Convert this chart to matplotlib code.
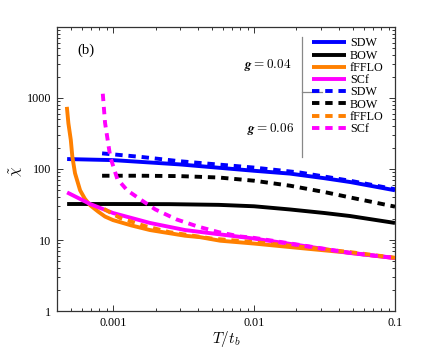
import numpy as np
import matplotlib
matplotlib.use("Agg")
import matplotlib.pyplot as plt
from matplotlib.ticker import LogLocator, FixedLocator, FixedFormatter, NullFormatter

plt.rcParams['font.family'] = ['Liberation Serif', 'DejaVu Serif']
plt.rcParams['mathtext.fontset'] = 'cm'

# ---- data (log10 T, log10 chi) ----
sdw04_lx = [-3.326, -3.0, -2.53, -2.0, -1.745, -1.5, -1.32, -1.0]
sdw04_ly = [2.14, 2.125, 2.065, 1.975, 1.935, 1.87, 1.817, 1.70]

sdw06_lx = [-3.078, -2.8, -2.53, -2.0, -1.674, -1.32, -1.0]
sdw06_ly = [2.22, 2.17, 2.11, 2.02, 1.95, 1.835, 1.715]

bow04_lx = [-3.326, -3.0, -2.6, -2.25, -2.0, -1.745, -1.5, -1.32, -1.0]
bow04_ly = [1.507, 1.507, 1.505, 1.495, 1.475, 1.43, 1.38, 1.338, 1.24]

bow06_lx = [-3.078, -2.8, -2.53, -2.25, -2.0, -1.745, -1.5, -1.32, -1.0]
bow06_ly = [1.905, 1.905, 1.90, 1.88, 1.835, 1.765, 1.675, 1.60, 1.47]

ffflo04_lx = [-3.328, -3.317, -3.300, -3.289, -3.270, -3.234, -3.200, -3.163, -3.106, -3.057, -3.0,
              -2.87, -2.738, -2.489, -2.383, -2.24, -2.0, -1.674, -1.32, -1.0]
ffflo04_ly = [2.875, 2.643, 2.41, 2.173, 1.94, 1.70, 1.58, 1.49, 1.40, 1.33, 1.28,
              1.205, 1.14, 1.06, 1.04, 0.99, 0.95, 0.887, 0.82, 0.745]

ffflo06_lx = [-3.064, -2.95, -2.78, -2.60, -2.3, -2.0, -1.674, -1.32, -1.0]
ffflo06_ly = [1.437, 1.31, 1.20, 1.11, 1.02, 0.97, 0.905, 0.83, 0.75]

scf04_lx = [-3.326, -3.163, -3.0, -2.738, -2.489, -2.0, -1.674, -1.32, -1.0]
scf04_ly = [1.67, 1.507, 1.38, 1.24, 1.14, 1.02, 0.925, 0.817, 0.746]

scf06_lx = [-3.073, -3.057, -3.02, -2.97, -2.90, -2.80, -2.70, -2.55, -2.40,
            -2.25, -2.10, -2.0, -1.674, -1.32, -1.0]
scf06_ly = [3.06, 2.65, 2.17, 1.86, 1.70, 1.563, 1.43, 1.29, 1.19,
            1.11, 1.05, 1.03, 0.93, 0.82, 0.748]

labels = ['SDW', 'BOW', 'fFFLO', 'SCf']
colors = ['#0000FF', '#000000', '#FF8000', '#FF00FF']

x_ticks = [0.001, 0.01, 0.1]
x_ticklabels = ['0.001', '0.01', '0.1']
y_ticks = [1, 10, 100, 1000]
y_ticklabels = ['1', '10', '100', '1000']

fig = plt.figure(figsize=(4.36, 3.5), dpi=100)
ax = fig.add_axes([0.1307, 0.1114, 0.7753, 0.8115])

p = lambda a: 10 ** np.asarray(a)
lw = 2.8
dash = (1.9, 1.5)

solid = [(sdw04_lx, sdw04_ly), (bow04_lx, bow04_ly), (ffflo04_lx, ffflo04_ly), (scf04_lx, scf04_ly)]
dashed = [(sdw06_lx, sdw06_ly), (bow06_lx, bow06_ly), (ffflo06_lx, ffflo06_ly), (scf06_lx, scf06_ly)]

handles = []
for (lx, ly), c, lab in zip(solid, colors, labels):
    h, = ax.plot(p(lx), p(ly), color=c, lw=lw, solid_capstyle='butt',
                 solid_joinstyle='round', label=lab, zorder=2)
    handles.append(h)
for (lx, ly), c, lab in zip(dashed, colors, labels):
    h, = ax.plot(p(lx), p(ly), color=c, lw=lw, dashes=dash, dash_capstyle='butt', label=lab, zorder=3)
    handles.append(h)

ax.set_xscale('log')
ax.set_yscale('log')
ax.set_xlim(4.0e-4, 0.1)
ax.set_ylim(1, 1e4)

ax.xaxis.set_major_locator(FixedLocator(x_ticks))
ax.xaxis.set_major_formatter(FixedFormatter(x_ticklabels))
ax.xaxis.set_minor_locator(LogLocator(base=10, subs=np.arange(2, 10)))
ax.xaxis.set_minor_formatter(NullFormatter())
ax.yaxis.set_major_locator(FixedLocator(y_ticks))
ax.yaxis.set_major_formatter(FixedFormatter(y_ticklabels))
ax.yaxis.set_minor_locator(LogLocator(base=10, subs=np.arange(2, 10)))
ax.yaxis.set_minor_formatter(NullFormatter())

spc = '#333333'
for s in ax.spines.values():
    s.set_color(spc)
    s.set_linewidth(0.9)
ax.tick_params(which='both', direction='in', top=True, right=True, color=spc,
               labelsize=8.7, width=0.7)
ax.tick_params(which='major', length=4, pad=4)
ax.tick_params(which='minor', length=2.2)

ax.set_xlabel(r'$T/t_b$', fontsize=11, labelpad=0)
ax.set_ylabel(r'$\tilde{\chi}$', fontsize=11)
ax.yaxis.set_label_coords(-0.095, 0.493)

ax.text(0.086, 0.919, '(b)', transform=ax.transAxes, fontsize=10.5, ha='center', va='center')

leg = ax.legend(handles=handles, labels=labels * 2, loc='upper left',
                bbox_to_anchor=(0.754, 0.963), frameon=False, fontsize=8.7,
                handlelength=2.8, handletextpad=0.35, labelspacing=0.02,
                borderpad=0, borderaxespad=0)

ax.plot([0.725, 0.725], [0.542, 0.965], transform=ax.transAxes, color='#888888', lw=0.9, clip_on=False)
ax.plot([0.725, 0.784], [0.771, 0.771], transform=ax.transAxes, color='#888888', lw=0.9, clip_on=False)
ax.text(0.624, 0.866, r'$\boldsymbol{g} = 0.04$', transform=ax.transAxes, fontsize=9.5,
        ha='center', va='center')
ax.text(0.633, 0.641, r'$\boldsymbol{g} = 0.06$', transform=ax.transAxes, fontsize=9.5,
        ha='center', va='center')

fig.savefig('out.png', dpi=100)
